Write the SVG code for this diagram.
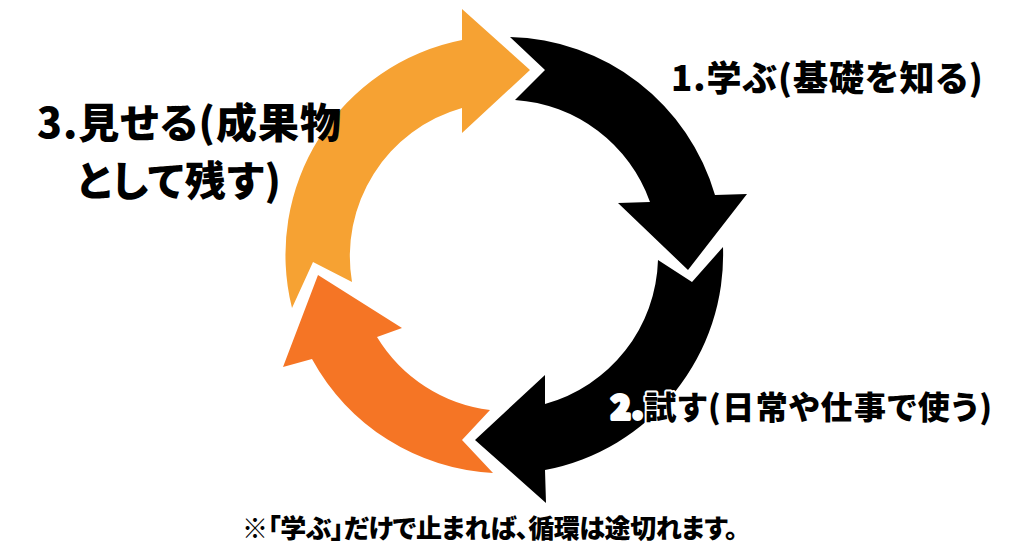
<svg xmlns="http://www.w3.org/2000/svg" width="1024" height="556" viewBox="0 0 1024 556">
<style>
.lbl{font-family:"Noto Sans CJK JP","Noto Sans",sans-serif;font-weight:900;fill:#000;font-feature-settings:"palt"}
.halo{stroke:#fff;stroke-width:4;stroke-linejoin:round;paint-order:stroke}
.blk{fill:#000}
.lo{fill:#F6A233}
.do{fill:#F57525}
</style>
<rect width="1024" height="556" fill="#fff"/>
<g id="connectors">
<path id="arrow-learn" class="blk" d="M510,37 A219,219 0 0 1 715,195 L747,194 L688,270 L618,203 L650,202 A154,154 0 0 0 515,100 L545,70 Z"/>
<path id="arrow-try" class="blk" d="M723,247 A219,219 0 0 1 545,470 L546,503 L475,440 L545,375 L545,404 A154,154 0 0 0 658,260 L692,282 Z"/>
<path id="arrow-show" class="do" d="M493,473 A219,219 0 0 1 312,359 L283,367 L318,275 L402,328 L377,337 A154,154 0 0 0 490,410 L462,440 Z"/>
<path id="arrow-loop" class="lo" d="M292,308 A219,219 0 0 1 462,40 L462,9 L530,70 L462,133 L462,108 A154,154 0 0 0 352,282 L313,262 Z"/>
</g>
<g id="node-learn">
<text class="lbl" x="671" y="91" font-size="35" letter-spacing="1">1.学ぶ(基礎を知る)</text>
</g>
<g id="node-try">
<text class="lbl halo" x="611" y="419" font-size="32" letter-spacing="1.4"><tspan fill="#fff">2.</tspan>試す(日常や仕事で使う)</text>
</g>
<g id="node-show">
<text class="lbl" x="37" y="138" font-size="41" letter-spacing="1">3.見せる(成果物</text>
<text class="lbl" x="77" y="196" font-size="41" letter-spacing="1">として残す)</text>
</g>
<g id="note">
<text class="lbl" x="242" y="538" font-size="26" letter-spacing="-0.4">※「学ぶ」だけで止まれば、循環は途切れます。</text>
</g>
</svg>
